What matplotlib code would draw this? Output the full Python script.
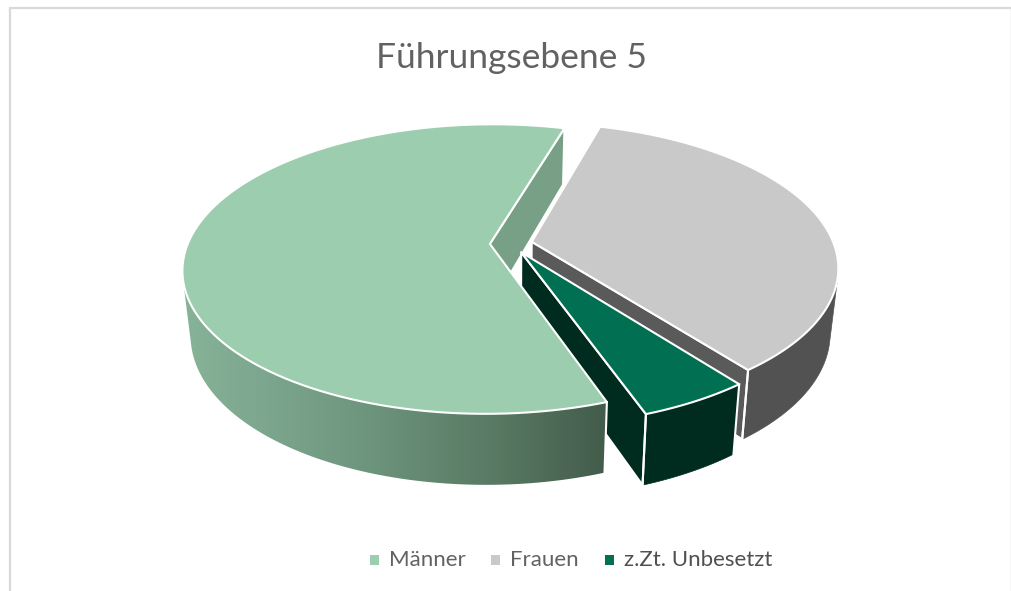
"""Exploded 3D pie (Excel style) drawn as projected polygons."""
import numpy as np
import matplotlib
matplotlib.use("Agg")
import matplotlib.pyplot as plt
from matplotlib.patches import Polygon, Rectangle
from matplotlib.colors import to_rgb

TITLE = "Führungsebene 5"
categories = ["Männer", "Frauen", "z.Zt. Unbesetzt"]
values = [59.9, 35.1, 5.0]

TOP_COLORS = ["#9ccdae", "#c9c9c9", "#006f52"]
SIDE_COLORS = ["#78a087", "#525252", "#002c20"]
FACE_COLORS = ["#78a087", "#5a5a5a", "#002c20"]
TEXT_COLOR = "#626262"
LEGEND_TEXT = ["#626262", "#626262", "#505050"]
# side of the big slice fades from light on the left to dark at the cut
FADE_X = [190, 350, 500, 605]
FADE_COLORS = ["#86b298", "#709880", "#587862", "#435c4b"]

# projection of the pie plane, in pixels
CX, CY = 511.0, 243.6
A, B = 302.0, 140.3
PERSP = 0.1736
EXPLODE = 0.07
START = 160.4   # clockwise from the back, where the first slice begins
BOTTOM_SCALE = 0.975


def project(u, v):
    w = 1 - PERSP * v
    return CX + A * u / w, CY + B * v / w


def bottom(u, v):
    x, y = project(u, v)
    return CX + (x - CX) * BOTTOM_SCALE, y + 63.5 + 7.5 * v


def slice_pts(a0, a1, off, n=120):
    t = np.radians(np.linspace(a0, a1, n))
    return off[0] + np.sin(t), off[1] - np.cos(t)


def draw_poly(ax, xy, fc, ec="white", lw=1.5, z=1):
    return ax.add_patch(Polygon(xy, closed=True, facecolor=fc, edgecolor=ec, linewidth=lw,
                                joinstyle="round", zorder=z))


def outer_xy(a0, a1, off):
    u, v = slice_pts(a0, a1, off, 400)
    tx, ty = project(u, v)
    bx, by = bottom(u, v)
    # only the part of the rim in front of the silhouette tangents is visible
    cross = np.gradient(tx) * (by - ty) - np.gradient(ty) * (bx - tx)
    keep = cross * cross[np.argmax(v)] > 0
    return list(zip(tx[keep], ty[keep])) + list(zip(bx[keep][::-1], by[keep][::-1]))


def draw_radial(ax, angle, off, fc, z):
    t = np.radians(angle)
    rim = (off[0] + np.sin(t), off[1] - np.cos(t))
    xy = [project(*off), project(*rim), bottom(*rim), bottom(*off)]
    draw_poly(ax, xy, fc, z=z)


def draw_top(ax, a0, a1, off, fc, z):
    u, v = slice_pts(a0, a1, off)
    x, y = project(u, v)
    xy = [project(*off)] + list(zip(x, y))
    draw_poly(ax, xy, fc, z=z)


def rim_line(ax, angle, off, z):
    t = np.radians(angle)
    rim = (off[0] + np.sin(t), off[1] - np.cos(t))
    ax.plot(*zip(project(*rim), bottom(*rim)), color="white", lw=1.5, zorder=z)


def draw_faded_side(ax, a0, a1, off, z):
    patch = draw_poly(ax, outer_xy(a0, a1, off), "none", ec="none", z=z)
    xs = np.arange(170, 630)
    stops = np.array([to_rgb(c) for c in FADE_COLORS])
    img = np.stack([np.interp(xs, FADE_X, stops[:, i]) for i in range(3)], axis=1)[None, :, :]
    im = ax.imshow(img, extent=(170, 630, 520, 240), aspect="auto", zorder=z,
                   interpolation="bilinear")
    im.set_clip_path(patch)


fig = plt.figure(figsize=(10.12, 5.91), dpi=100)
ax = fig.add_axes([0, 0, 1, 1])
ax.axis("off")

# chart frame, cut off at the bottom of the screenshot
ax.plot([10.5, 10.5, 1011], [600, 8, 8], color="#d9d9d9", lw=1.6, solid_joinstyle="miter", zorder=0)
ax.plot([1011, 1011], [8, 600], color="#d9d9d9", lw=1, zorder=0)

spans = np.array(values) / sum(values) * 360
starts = START + np.concatenate([[0], np.cumsum(spans)[:-1]])
ends = starts + spans
mids = np.radians((starts + ends) / 2)
offs = [(EXPLODE * np.sin(m), -EXPLODE * np.cos(m)) for m in mids]

# painter's order: back face of Männer, then Frauen, Unbesetzt, rest of Männer
draw_radial(ax, ends[0], offs[0], FACE_COLORS[0], 1)

draw_poly(ax, outer_xy(starts[1], ends[1], offs[1]), SIDE_COLORS[1], ec=SIDE_COLORS[1], lw=0.5, z=2)
draw_radial(ax, ends[1], offs[1], FACE_COLORS[1], 3)
rim_line(ax, ends[1], offs[1], 3)
draw_top(ax, starts[1], ends[1], offs[1], TOP_COLORS[1], 4)

draw_poly(ax, outer_xy(starts[2], ends[2], offs[2]), SIDE_COLORS[2], ec=SIDE_COLORS[2], lw=0.5, z=5)
draw_radial(ax, ends[2], offs[2], FACE_COLORS[2], 6)
rim_line(ax, starts[2], offs[2], 6)
rim_line(ax, ends[2], offs[2], 6)
draw_top(ax, starts[2], ends[2], offs[2], TOP_COLORS[2], 7)

draw_faded_side(ax, starts[0], ends[0], offs[0], 8)
rim_line(ax, starts[0], offs[0], 8)
draw_top(ax, starts[0], ends[0], offs[0], TOP_COLORS[0], 9)

ax.text(511.5, 58, TITLE, fontsize=25.5, family="Lato", color=TEXT_COLOR, ha="center", va="center")

# legend laid out by hand to sit where the original does
legend_sq = [370, 491, 605]
legend_tx = [389, 510, 624]
for name, col, tcol, sx, tx in zip(categories, TOP_COLORS, LEGEND_TEXT, legend_sq, legend_tx):
    ax.add_patch(Rectangle((sx, 555), 9.5, 9.5, facecolor=col, edgecolor="none"))
    ax.text(tx, 560, name, fontsize=16, family="Lato", color=tcol, ha="left", va="center")

ax.set_xlim(0, 1012)
ax.set_ylim(591, 0)

fig.savefig("out.png", dpi=100)
